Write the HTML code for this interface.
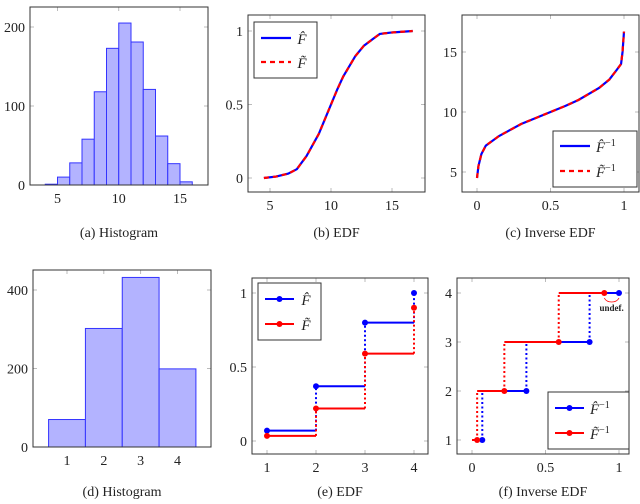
<!DOCTYPE html>
<html><head><meta charset="utf-8">
<style>
body{margin:0;background:#fff;width:640px;height:504px;overflow:hidden}
svg{position:absolute;left:0;top:0}
text{font-family:"Liberation Serif",serif;fill:#222}
</style></head><body>
<svg id="s" width="640" height="504" viewBox="0 0 640 504"></svg>
<script>
// Data
const histAEdges=[4,5,6,7,8,9,10,11,12,13,14,15,16];
const histACounts=[1,10,28,58,118,173,205,181,121,62,27,4];
const edfX=[4.5,5.5,6.5,7.2,8,9,10,10.5,11,12,12.7,13.5,14,15,16.7];
const edfY=[0,0.01,0.03,0.06,0.15,0.3,0.5,0.6,0.69,0.83,0.9,0.95,0.98,0.99,1];
const histDCats=[1,2,3,4];
const histDCounts=[70,302,432,199];
const edfHat=[0.07,0.37,0.8,1];
const edfTilde=[0.035,0.22,0.59,0.9];

const S=document.getElementById('s');
const NS='http://www.w3.org/2000/svg';
function el(tag,attrs,parent){const e=document.createElementNS(NS,tag);for(const k in attrs)e.setAttribute(k,attrs[k]);(parent||S).appendChild(e);return e;}
function lin(d0,d1,r0,r1){return v=>r0+(v-d0)*(r1-r0)/(d1-d0);}
function txt(x,y,s,opt,g){const t=el('text',Object.assign({x:x,y:y,'font-size':14,'text-anchor':'middle'},opt||{}),g);t.textContent=s;return t;}

function panel(name,box,xs,ys,xticks,yticks,caption,xlabels,ylabels){
  const g=el('g',{});
  
  
  xticks.forEach((v,i)=>{const x=xs(v);
    el('line',{x1:x,x2:x,y1:box.y0,y2:box.y0+4,stroke:'#aaa','stroke-width':0.8},g);
    el('line',{x1:x,x2:x,y1:box.y1,y2:box.y1-4,stroke:'#aaa','stroke-width':0.8},g);
    const t=txt(x,box.y1+18,xlabels[i],{},g);
    
    });
  yticks.forEach((v,i)=>{const y=ys(v);
    el('line',{x1:box.x0,x2:box.x0+4,y1:y,y2:y,stroke:'#aaa','stroke-width':0.8},g);
    el('line',{x1:box.x1,x2:box.x1-4,y1:y,y2:y,stroke:'#aaa','stroke-width':0.8},g);
    const t=txt(box.x0-5,y+5,ylabels[i],{'text-anchor':'end'},g);
    
    });
  const c=txt((box.x0+box.x1)/2,box.cap,caption,{},g);
  
  
  return g;
}
function frame(box,g){const r=el('rect',{x:box.x0,y:box.y0,width:box.x1-box.x0,height:box.y1-box.y0,fill:'none',stroke:'#333','stroke-width':1},g);
  
  }

// (a)
(function(){
 const box={x0:30,x1:208,y0:7,y1:185,cap:237};
 const xs=lin(5,15,57.5,180), ys=lin(0,200,185,27);
 const g=panel('histogram-a',box,xs,ys,[5,10,15],[0,100,200],'(a) Histogram',['5','10','15'],['0','100','200']);
 histACounts.forEach((c,i)=>{const b=el('rect',{x:xs(histAEdges[i]),y:ys(c),width:xs(histAEdges[i+1])-xs(histAEdges[i]),height:ys(0)-ys(c),fill:'#b3b3ff',stroke:'#3333ff','stroke-width':1},g);
  
  });
 frame(box,g);
})();

// (b)
(function(){
 const box={x0:248,x1:425,y0:15,y1:192,cap:237};
 const xs=lin(5,15,270,392), ys=lin(0,1,178,31);
 const g=panel('edf-b',box,xs,ys,[5,10,15],[0,0.5,1],'(b) EDF',['5','10','15'],['0','0.5','1']);
 const pts=edfX.map((x,i)=>xs(x)+','+ys(edfY[i])).join(' ');
 const l1=el('polyline',{points:pts,fill:'none',stroke:'#0000ff','stroke-width':2.2},g);
 
 
 const l2=el('polyline',{points:pts,fill:'none',stroke:'#ff0000','stroke-width':2.2,'stroke-dasharray':'5,4'},g);
 
 
 frame(box,g);
 const lg=el('g',{},g);
 
 
 el('rect',{x:254,y:22,width:63,height:56,fill:'#fff',stroke:'#333'},lg);
 el('line',{x1:261,x2:291,y1:38,y2:38,stroke:'#0000ff','stroke-width':2.2},lg);
 el('line',{x1:261,x2:291,y1:62,y2:62,stroke:'#ff0000','stroke-width':2.2,'stroke-dasharray':'5,4'},lg);
 txt(302,44,'F\u0302',{'font-style':'italic','font-size':15},lg);
 txt(302,68,'F\u0303',{'font-style':'italic','font-size':15},lg);
})();

// (c)
(function(){
 const box={x0:462,x1:639,y0:15,y1:192,cap:237};
 const xs=lin(0,1,477,624), ys=lin(5,15,172,52);
 const g=panel('inverse-edf-c',box,xs,ys,[0,0.5,1],[5,10,15],'(c) Inverse EDF',['0','0.5','1'],['5','10','15']);
 const pts=edfX.map((x,i)=>xs(edfY[i])+','+ys(x)).join(' ');
 const l1=el('polyline',{points:pts,fill:'none',stroke:'#0000ff','stroke-width':2.2},g);
 
 
 const l2=el('polyline',{points:pts,fill:'none',stroke:'#ff0000','stroke-width':2.2,'stroke-dasharray':'5,4'},g);
 
 
 frame(box,g);
 const lg=el('g',{},g);
 
 
 el('rect',{x:553,y:131,width:84,height:56,fill:'#fff',stroke:'#333'},lg);
 el('line',{x1:560,x2:590,y1:146,y2:146,stroke:'#0000ff','stroke-width':2.2},lg);
 el('line',{x1:560,x2:590,y1:171,y2:171,stroke:'#ff0000','stroke-width':2.2,'stroke-dasharray':'5,4'},lg);
 const t1=txt(596,152,'F\u0302',{'font-style':'italic','font-size':15,'text-anchor':'start'},lg);
 const s1=el('tspan',{dy:-6,'font-size':10,'font-style':'normal'},t1);s1.textContent='\u22121';
 const t2=txt(596,177,'F\u0303',{'font-style':'italic','font-size':15,'text-anchor':'start'},lg);
 const s2=el('tspan',{dy:-6,'font-size':10,'font-style':'normal'},t2);s2.textContent='\u22121';
})();

// (d)
(function(){
 const box={x0:33,x1:211,y0:270,y1:447,cap:496};
 const xs=lin(1,4,67,177.5), ys=lin(0,400,447,290);
 const g=panel('histogram-d',box,xs,ys,[1,2,3,4],[0,200,400],'(d) Histogram',['1','2','3','4'],['0','200','400']);
 histDCounts.forEach((c,i)=>{const x0=xs(histDCats[i]-0.5),x1=xs(histDCats[i]+0.5);
  const b=el('rect',{x:x0,y:ys(c),width:x1-x0,height:ys(0)-ys(c),fill:'#b3b3ff',stroke:'#3333ff','stroke-width':1},g);
  
  });
 frame(box,g);
})();

function stepSeries(g,xs,ys,vals,color,name,inverse){
  const grp=el('g',{},g);
  
  
  for(let i=0;i<vals.length;i++){
    const k=i+1;
    if(!inverse){
      if(i<vals.length-1) el('line',{x1:xs(k),x2:xs(k+1),y1:ys(vals[i]),y2:ys(vals[i]),stroke:color,'stroke-width':2},grp);
      if(i>0) el('line',{x1:xs(k),x2:xs(k),y1:ys(vals[i-1]),y2:ys(vals[i]),stroke:color,'stroke-width':2,'stroke-dasharray':'2,2.5'},grp);
      el('circle',{cx:xs(k),cy:ys(vals[i]),r:3,fill:color},grp);
    }else{
      const p=i>0?vals[i-1]:0;
      el('line',{x1:xs(p),x2:xs(vals[i]),y1:ys(k),y2:ys(k),stroke:color,'stroke-width':2},grp);
      if(i>0) el('line',{x1:xs(p),x2:xs(p),y1:ys(k-1),y2:ys(k),stroke:color,'stroke-width':2,'stroke-dasharray':'2,2.5'},grp);
      el('circle',{cx:xs(vals[i]),cy:ys(k),r:3,fill:color},grp);
    }
  }
}

// (e)
(function(){
 const box={x0:252,x1:428,y0:278,y1:454,cap:496};
 const xs=lin(1,4,267,414), ys=lin(0,1,441,293);
 const g=panel('edf-e',box,xs,ys,[1,2,3,4],[0,0.5,1],'(e) EDF',['1','2','3','4'],['0','0.5','1']);
 stepSeries(g,xs,ys,edfHat,'#0000ff','edf-hat-steps',false);
 stepSeries(g,xs,ys,edfTilde,'#ff0000','edf-tilde-steps',false);
 frame(box,g);
 const lg=el('g',{},g);
 
 
 el('rect',{x:258,y:283,width:63,height:57,fill:'#fff',stroke:'#333'},lg);
 el('line',{x1:265,x2:294,y1:299,y2:299,stroke:'#0000ff','stroke-width':2},lg);
 el('circle',{cx:279.5,cy:299,r:3,fill:'#0000ff'},lg);
 el('line',{x1:265,x2:294,y1:324,y2:324,stroke:'#ff0000','stroke-width':2},lg);
 el('circle',{cx:279.5,cy:324,r:3,fill:'#ff0000'},lg);
 txt(306,305,'F\u0302',{'font-style':'italic','font-size':15},lg);
 txt(306,330,'F\u0303',{'font-style':'italic','font-size':15},lg);
})();

// (f)
(function(){
 const box={x0:457,x1:629,y0:278,y1:454,cap:496};
 const xs=lin(0,1,472,619), ys=lin(1,4,440,293);
 const g=panel('inverse-edf-f',box,xs,ys,[0,0.5,1],[1,2,3,4],'(f) Inverse EDF',['0','0.5','1'],['1','2','3','4']);
 stepSeries(g,xs,ys,edfHat,'#0000ff','inv-edf-hat-steps',true);
 stepSeries(g,xs,ys,edfTilde,'#ff0000','inv-edf-tilde-steps',true);
 const x0=xs(edfTilde[3]),x1=xs(edfHat[3]),y=ys(4)+5;
 el('path',{d:`M${x0},${y} q2,4 ${(x1-x0)/2},4 q${(x1-x0)/2-2},0 ${(x1-x0)/2},-4`,fill:'none',stroke:'#ff0000','stroke-width':0.8},g);
 const u=txt((x0+x1)/2,y+13,'undef.',{'font-size':9,fill:'#ff0000','font-weight':'bold'},g);
 
 
 frame(box,g);
 const lg=el('g',{},g);
 
 
 el('rect',{x:548,y:392,width:81,height:57,fill:'#fff',stroke:'#333'},lg);
 el('line',{x1:555,x2:584,y1:408,y2:408,stroke:'#0000ff','stroke-width':2},lg);
 el('circle',{cx:569.5,cy:408,r:3,fill:'#0000ff'},lg);
 el('line',{x1:555,x2:584,y1:433,y2:433,stroke:'#ff0000','stroke-width':2},lg);
 el('circle',{cx:569.5,cy:433,r:3,fill:'#ff0000'},lg);
 const t1=txt(590,414,'F\u0302',{'font-style':'italic','font-size':15,'text-anchor':'start'},lg);
 const s1=el('tspan',{dy:-6,'font-size':10,'font-style':'normal'},t1);s1.textContent='\u22121';
 const t2=txt(590,439,'F\u0303',{'font-style':'italic','font-size':15,'text-anchor':'start'},lg);
 const s2=el('tspan',{dy:-6,'font-size':10,'font-style':'normal'},t2);s2.textContent='\u22121';
})();
</script>
</body></html>
